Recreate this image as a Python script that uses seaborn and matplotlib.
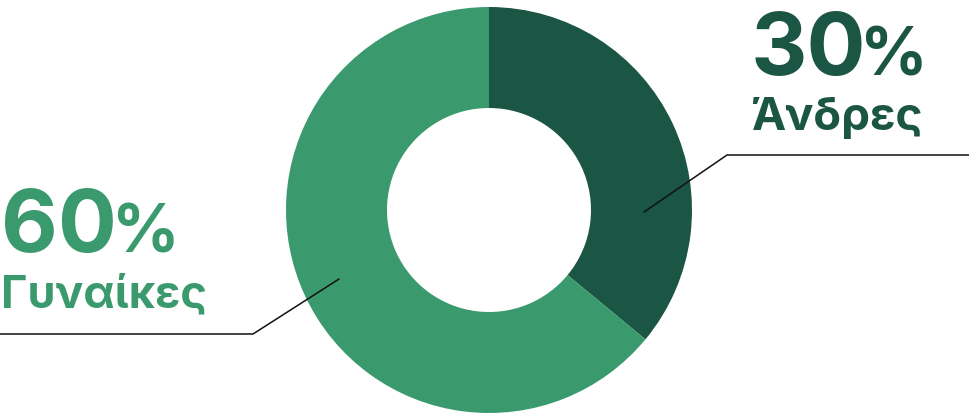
import matplotlib
matplotlib.use('Agg')
import matplotlib.pyplot as plt
import seaborn as sns

# slice shares as drawn in the picture (dark slice spans ~130 deg)
groups = ['Άνδρες', 'Γυναίκες']
shares = [36, 64]
pct_labels = ['30', '60']
colors = ['#1b5543', '#3a9a6e']

W, H = 969, 417

sns.set_theme(style='white')
plt.rcParams['font.family'] = ['Inter', 'DejaVu Sans']

fig = plt.figure(figsize=(W / 100, H / 100), dpi=100)
ax = fig.add_axes([0, 0, 1, 1])

cx, cy = 489, H - 210
ax.pie(shares, colors=colors, startangle=90, counterclock=False,
       center=(cx, cy), radius=203,
       wedgeprops=dict(width=101, linewidth=0))

ax.set_xlim(0, W)
ax.set_ylim(0, H)
ax.set_aspect('equal')
ax.axis('off')


def py(y):
    return H - y


# leader lines
ax.plot([644, 727, W], [py(212), py(155), py(155)], color='#111111', lw=1.1)
ax.plot([339, 253, 0], [py(279), py(334), py(334)], color='#111111', lw=1.1)

# right label (men)
ax.text(751, py(75), pct_labels[0], color=colors[0], fontsize=63,
        fontweight='bold', va='baseline', ha='left')
ax.text(860, py(75), '%', color=colors[0], fontsize=48,
        fontweight='bold', va='baseline', ha='left')
ax.text(751, py(130), groups[0], color=colors[0], fontsize=33,
        fontweight='bold', va='baseline', ha='left')

# left label (women)
ax.text(1, py(252), pct_labels[1], color=colors[1], fontsize=63,
        fontweight='bold', va='baseline', ha='left')
ax.text(112, py(252), '%', color=colors[1], fontsize=48,
        fontweight='bold', va='baseline', ha='left')
ax.text(1, py(307), groups[1], color=colors[1], fontsize=32.5,
        fontweight='bold', va='baseline', ha='left')

fig.savefig('out.png', dpi=100, facecolor='white')
